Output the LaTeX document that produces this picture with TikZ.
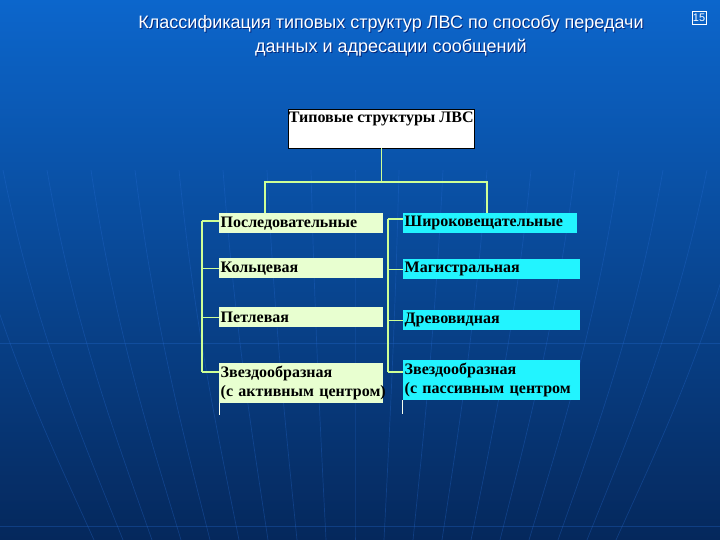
\documentclass[tikz,border=0pt]{standalone}
\usepackage{fontspec}
\setmainfont{Liberation Serif}
\newfontfamily\titlefont{Liberation Sans}
\usetikzlibrary{positioning,calc}

\definecolor{bgtop}{RGB}{12,102,204}
\definecolor{bgmid}{RGB}{10,62,160}
\definecolor{bgbot}{RGB}{5,40,92}
\definecolor{gridblue}{RGB}{40,110,215}
\definecolor{linkgreen}{RGB}{206,255,150}
\definecolor{paleleaf}{RGB}{232,255,208}
\definecolor{aquabox}{RGB}{34,244,255}

\begin{document}
\begin{tikzpicture}[
            x = 1pt, y = -1pt, % one unit per pixel, y downwards
            branch/.style = {draw = linkgreen, line width = 1.2pt},
            stub/.style = {draw = white!85!linkgreen, line width = 0.8pt},
            leafbox/.style = {
                anchor = north west,
                font = \fontsize{16}{19}\selectfont\bfseries,
                inner xsep = 1.5pt, inner ysep = 1pt,
                minimum height = 20pt,
                align = left
            },
            seqbox/.style = {leafbox, fill = paleleaf, text width = 161pt},
            bcastbox/.style = {leafbox, fill = aquabox, text width = 174pt}
        ]

        % background
        \shade[top color = bgtop, middle color = bgmid, bottom color = bgbot]
            (0,0) rectangle (720,540);
        \useasboundingbox (0,0) rectangle (720,540);
        \foreach \k in {-9,...,9} {
            \draw[gridblue, opacity = 0.3, line width = 0.7pt]
                (355+\k*44,170) .. controls (355+\k*40,330) and (355+\k*34,440) .. (355+\k*29,540);
        }
        \draw[gridblue, opacity = 0.3, line width = 0.7pt] (0,343) -- (720,343);
        \draw[gridblue, opacity = 0.3, line width = 0.7pt] (0,526) -- (720,526);

        % title
        \node[align = center, text = black!70!blue, opacity = 0.6,
              font = \titlefont\fontsize{18}{24}\selectfont]
            at (392,37)
            {Классификация типовых структур ЛВС по способу передачи\\данных и адресации сообщений};
        \node[align = center, text = white, font = \titlefont\fontsize{18}{24}\selectfont]
            (title) at (391,36)
            {Классификация типовых структур ЛВС по способу передачи\\данных и адресации сообщений};
        \node[draw = white, text = white, inner sep = 1pt, line width = 0.6pt,
              minimum size = 13pt,
              font = \titlefont\fontsize{11}{11}\selectfont] (page) at (699,18) {15};

        % root
        \node[draw = black, fill = white, anchor = north west,
              minimum width = 186pt, minimum height = 39pt, inner sep = 0pt] (root) at (288,109) {};
        \node[anchor = north, inner sep = 1pt, font = \fontsize{16}{18}\selectfont\bfseries]
            (rootlabel) at ($(root.north)+(0,2)$) {Типовые структуры ЛВС};

        % left column
        \node[seqbox] (l1) at (219,213) {Последовательные};
        \node[seqbox] (l2) at (219,258) {Кольцевая};
        \node[seqbox] (l3) at (219,307) {Петлевая};
        \node[seqbox, minimum height = 40pt] (l4) at (219,363)
            {Звездообразная\\\makebox[161pt][l]{(с активным центром)}};

        % right column
        \node[bcastbox, text width = 171pt] (r1) at (403,213) {Широковещательные};
        \node[bcastbox] (r2) at (403,259) {Магистральная};
        \node[bcastbox] (r3) at (403,310) {Древовидная};
        \node[bcastbox, minimum height = 40pt] (r4) at (403,360) {Звездообразная\\(с пассивным центром};

        % fork
        \coordinate (forkL) at (265,182);
        \coordinate (forkR) at (487,182);
        \draw[branch] (root.south) -- (root.south |- forkL);
        \draw[branch] (forkL |- l1.north) -- (forkL) -- (forkR) -- (forkR |- r1.north);

        % left bus
        \coordinate (busL) at (202,221);
        \coordinate (busLend) at (202,372);
        \draw[branch] (busL) -- (busLend);
        \draw[branch] (busL) -- (busL -| l1.west);
        \draw[branch] (busL |- l2.west) -- (l2.west);
        \draw[branch] (busL |- l3.west) -- (l3.west);
        \draw[branch] (busLend) -- (busLend -| l4.west);

        % right bus
        \coordinate (busR) at (388,219);
        \coordinate (busRend) at (388,372);
        \draw[branch] (busR) -- (busRend);
        \draw[branch] (busR) -- (busR -| r1.west);
        \draw[branch] (busR |- r2.west) -- (r2.west);
        \draw[branch] (busR |- r3.west) -- (r3.west);
        \draw[branch] (busRend) -- (busRend -| r4.west);

        % stubs under the last boxes
        \draw[stub] (l4.south west) -- ++(0,12);
        \draw[stub] ($(r4.south west)+(-1,0)$) -- ++(0,14);

  \end{tikzpicture}
\end{document}
